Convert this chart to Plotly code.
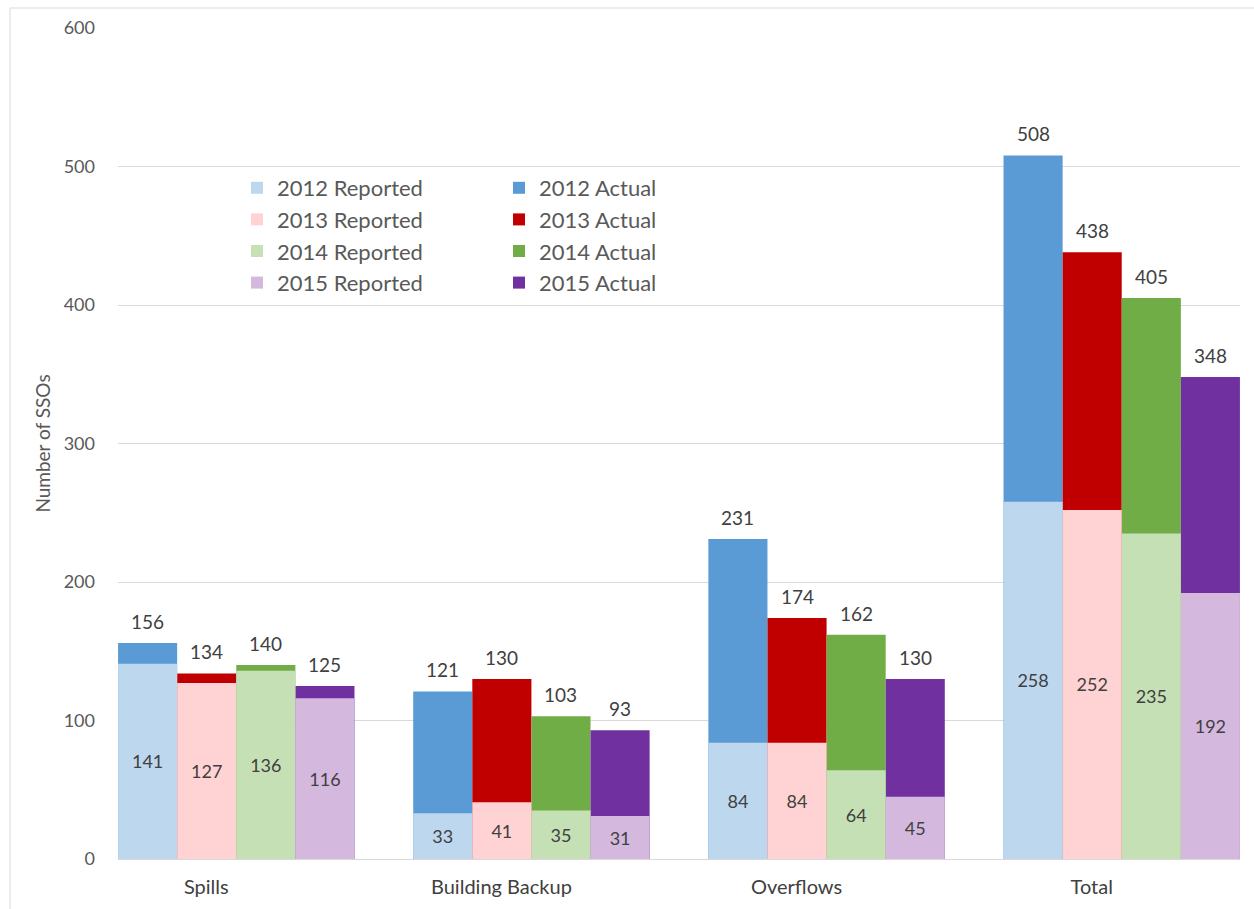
import plotly.graph_objects as go

categories = ["Spills", "Building Backup", "Overflows", "Total"]
years = ["2012", "2013", "2014", "2015"]

reported_2012 = [141, 33, 84, 258]
reported_2013 = [127, 41, 84, 252]
reported_2014 = [136, 35, 64, 235]
reported_2015 = [116, 31, 45, 192]

actual_2012 = [156, 121, 231, 508]
actual_2013 = [134, 130, 174, 438]
actual_2014 = [140, 103, 162, 405]
actual_2015 = [125, 93, 130, 348]

reported = [reported_2012, reported_2013, reported_2014, reported_2015]
actual = [actual_2012, actual_2013, actual_2014, actual_2015]

reported_colors = ["#BDD7EE", "#FFD3D3", "#C5E0B4", "#D5B8DE"]
actual_colors = ["#5B9BD5", "#C00000", "#70AD47", "#7030A0"]

FONT = "Lato"
TXT = "#404040"

W, H = 1254, 909
L, R, T, B = 118, 14, 28, 50
pw = W - L - R
ph = H - T - B
BARGAP = 0.199
XR = [-0.4007, 3.4007]
slot_px = pw / (XR[1] - XR[0])
bar_px = slot_px * (1 - BARGAP) / 4

fig = go.Figure()

for i, y in enumerate(years):
    fig.add_trace(go.Bar(
        x=categories, y=actual[i], name=f"{y} Actual",
        marker=dict(color=actual_colors[i], line=dict(width=0)),
        offsetgroup=y, legend="legend2",
    ))

for i, y in enumerate(years):
    fig.add_trace(go.Bar(
        x=categories, y=reported[i], name=f"{y} Reported",
        marker=dict(color=reported_colors[i], line=dict(width=0)),
        offsetgroup=y, legend="legend",
        text=[str(v) for v in reported[i]], textposition="inside",
        insidetextanchor="middle",
        textfont=dict(family=FONT, size=18, color=TXT),
    ))

# value labels above the actual bars
for i, y in enumerate(years):
    for c, v in zip(categories, actual[i]):
        fig.add_annotation(
            x=c, y=v, text=str(v), showarrow=False,
            xref="x", yref="y", xanchor="center", yanchor="bottom",
            xshift=(i - 1.5) * bar_px, yshift=8,
            font=dict(family=FONT, size=19, color=TXT),
        )

fig.update_layout(
    width=W, height=H,
    margin=dict(l=L, r=R, t=T, b=B),
    paper_bgcolor="white", plot_bgcolor="white",
    barmode="group", bargap=BARGAP, bargroupgap=0,
    font=dict(family=FONT, color="#595959"),
    legend=dict(
        x=(237 - L) / pw, y=(H - B - 167) / ph, xanchor="left", yanchor="top",
        font=dict(family=FONT, size=22, color="#595959"),
        bgcolor="rgba(0,0,0,0)", tracegroupgap=0, itemwidth=30,
    ),
    legend2=dict(
        x=(499 - L) / pw, y=(H - B - 167) / ph, xanchor="left", yanchor="top",
        font=dict(family=FONT, size=22, color="#595959"),
        bgcolor="rgba(0,0,0,0)", tracegroupgap=0, itemwidth=30,
    ),
    xaxis=dict(
        range=XR,
        showgrid=False, showline=False, ticks="",
        tickfont=dict(family=FONT, size=20, color="#404040"),
        ticklabelstandoff=14, ticklabelshift=-30,
    ),
    yaxis=dict(
        range=[0, 600], dtick=100,
        showgrid=True, gridcolor="#D9D9D9", gridwidth=1,
        zeroline=True, zerolinecolor="#D9D9D9", zerolinewidth=1,
        showline=False, ticks="",
        tickfont=dict(family=FONT, size=18, color="#595959"),
        ticklabelstandoff=22,
        title=dict(text="Number of SSOs", font=dict(family=FONT, size=19, color="#595959"), standoff=8),
    ),
    shapes=[dict(
        type="rect", xref="paper", yref="paper",
        x0=(10 - L) / pw, x1=(W + 5 - L) / pw,
        y0=-(B + 5) / ph, y1=(H - B - 8) / ph,
        line=dict(color="#D9D9D9", width=1), fillcolor="rgba(0,0,0,0)", layer="below",
    )],
)

fig.write_html(
    "out.html",
    config={"displayModeBar": False},
    post_script="document.body.style.margin='0';document.body.style.overflow='hidden';",
)
